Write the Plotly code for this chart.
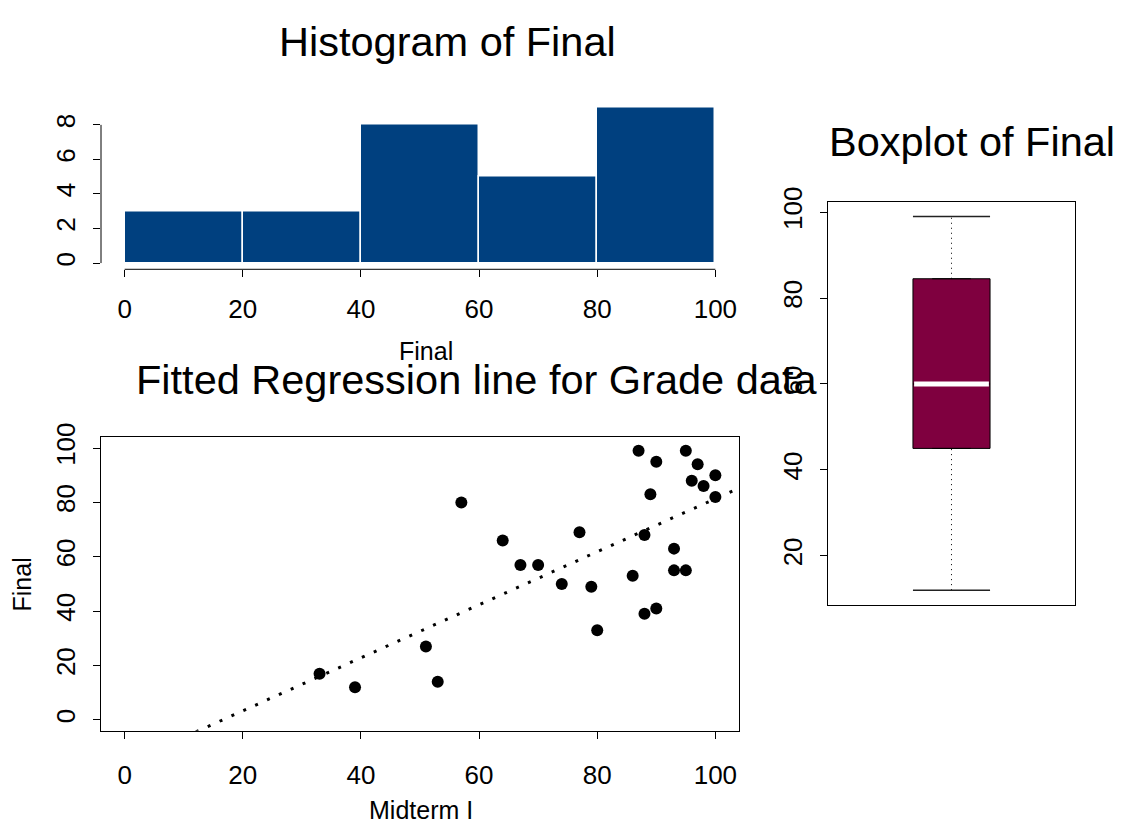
import numpy as np
import pandas as pd
import plotly.graph_objects as go

# Grade data: midterm I and final scores for each student
midterm = [33, 39, 51, 53, 57, 64, 67, 70, 74, 77, 79, 80, 86, 87, 88, 88,
           89, 90, 90, 93, 93, 95, 95, 96, 97, 98, 100, 100]
final = [17, 12, 27, 14, 80, 66, 57, 57, 50, 69, 49, 33, 53, 99, 68, 39,
         83, 95, 41, 63, 55, 99, 55, 88, 94, 86, 90, 82]

hist_breaks = [0, 20, 40, 60, 80, 100]
hist_ticks = [0, 2, 4, 6, 8]
grade_ticks = [0, 20, 40, 60, 80, 100]
box_ticks = [20, 40, 60, 80, 100]

W, H = 1121, 825
FONT = "Liberation Sans, Arial, sans-serif"
BAR_BLUE = "#00407F"
BOX_PURPLE = "#7F003F"


def fx(p):
    return p / W


def fy(p):
    return 1 - p / H


def padded(lo, hi):
    d = 0.04 * (hi - lo)
    return [lo - d, hi + d]


# Histogram counts with right-closed bins (a, b]
counts = (pd.cut(pd.Series(final), bins=hist_breaks, right=True, include_lowest=True)
          .value_counts(sort=False).values)
mids = [(a + b) / 2 for a, b in zip(hist_breaks[:-1], hist_breaks[1:])]
bin_w = hist_breaks[1] - hist_breaks[0]

# Least-squares line of final on midterm
slope, intercept = np.polyfit(midterm, final, 1)
x_rng = padded(0, 100)
line_x = np.array(x_rng)
line_y = intercept + slope * line_x


# Tukey five-number summary for the boxplot
def fivenum(v):
    v = np.sort(np.asarray(v, dtype=float))
    n = len(v)
    n4 = np.floor((n + 3) / 2) / 2
    d = np.array([1, n4, (n + 1) / 2, n + 1 - n4, n]) - 1
    return 0.5 * (v[np.floor(d).astype(int)] + v[np.ceil(d).astype(int)])


_, q1, med, q3, _ = fivenum(final)
iqr = q3 - q1
fv = np.asarray(final)
whisk_lo = fv[fv >= q1 - 1.5 * iqr].min()
whisk_hi = fv[fv <= q3 + 1.5 * iqr].max()
box_w = 0.337
hw = box_w / 2

fig = go.Figure()

# Histogram of Final
fig.add_trace(go.Bar(
    x=mids, y=counts, width=bin_w,
    marker=dict(color=BAR_BLUE, line=dict(color="white", width=1.5)),
    xaxis="x", yaxis="y", hoverinfo="skip",
))

# Scatter of Final vs Midterm I with fitted line
fig.add_trace(go.Scatter(
    x=line_x, y=line_y, mode="lines",
    line=dict(color="black", width=3, dash="3px,10px"),
    xaxis="x2", yaxis="y2", hoverinfo="skip",
))
fig.add_trace(go.Scatter(
    x=midterm, y=final, mode="markers",
    marker=dict(color="black", size=12),
    xaxis="x2", yaxis="y2",
))

# Boxplot of Final
fig.add_trace(go.Box(
    x=[1], q1=[q1], median=[med], q3=[q3],
    lowerfence=[q1], upperfence=[q3], width=box_w,
    fillcolor=BOX_PURPLE, line=dict(color="black", width=1),
    boxpoints=False, xaxis="x3", yaxis="y3", hoverinfo="skip",
))
for y0, y1 in [(q3, whisk_hi), (whisk_lo, q1)]:
    fig.add_trace(go.Scatter(
        x=[1, 1], y=[y0, y1], mode="lines",
        line=dict(color="black", width=1, dash="1px,4px"),
        xaxis="x3", yaxis="y3", hoverinfo="skip",
    ))
for yc in [whisk_hi, whisk_lo]:
    fig.add_trace(go.Scatter(
        x=[1 - hw, 1 + hw], y=[yc, yc], mode="lines",
        line=dict(color="#222222", width=1.5),
        xaxis="x3", yaxis="y3", hoverinfo="skip",
    ))
fig.add_trace(go.Scatter(
    x=[1 - hw + 0.005, 1 + hw - 0.005], y=[med, med], mode="lines",
    line=dict(color="white", width=5),
    xaxis="x3", yaxis="y3", hoverinfo="skip",
))

tick_font = dict(family=FONT, size=26, color="black")
common = dict(showgrid=False, zeroline=False, ticks="outside", ticklen=7,
              tickcolor="black", tickwidth=1, tickfont=tick_font)

fig.update_layout(
    width=W, height=H,
    margin=dict(l=0, r=0, t=0, b=0),
    paper_bgcolor="white", plot_bgcolor="white",
    showlegend=False, bargap=0,
    font=dict(family=FONT, color="black"),
    xaxis=dict(domain=[fx(101), fx(739)], range=padded(0, 100),
               tickvals=grade_ticks, showline=False, anchor="y",
               ticklabelstandoff=10, **common),
    yaxis=dict(domain=[fy(259), fy(88)], range=padded(0, 9),
               tickvals=hist_ticks, tickangle=-90, showline=False, anchor="x",
               ticklabelstandoff=8, **common),
    xaxis2=dict(domain=[fx(101), fx(739)], range=x_rng,
                tickvals=grade_ticks, showline=True, mirror=True,
                linecolor="black", linewidth=1, anchor="y2",
                ticklabelstandoff=14, **common),
    yaxis2=dict(domain=[fy(729), fy(430)], range=padded(0, 100),
                tickvals=grade_ticks, tickangle=-90, showline=True, mirror=True,
                linecolor="black", linewidth=1, anchor="x2",
                ticklabelstandoff=8, **common),
    xaxis3=dict(domain=[fx(828), fx(1075)], range=[0.46, 1.54],
                showticklabels=False, ticks="", showgrid=False, zeroline=False,
                showline=True, mirror=True, linecolor="black", linewidth=1,
                anchor="y3"),
    yaxis3=dict(domain=[fy(601), fy(190)], range=padded(min(final), max(final)),
                tickvals=box_ticks, tickangle=-90, showline=True, mirror=True,
                linecolor="black", linewidth=1, anchor="x3",
                ticklabelstandoff=8, **common),
)

# Axis lines of the histogram span only the tick range
fig.add_shape(type="line", xref="x", yref="y domain",
              x0=hist_breaks[0], x1=hist_breaks[-1], y0=0, y1=0,
              line=dict(color="black", width=1))
fig.add_shape(type="line", xref="x domain", yref="y",
              x0=0, x1=0, y0=hist_ticks[0], y1=hist_ticks[-1],
              line=dict(color="black", width=1))

title_font = dict(family=FONT, size=41.5, color="black")
label_font = dict(family=FONT, size=25, color="black")
texts = [
    ("Histogram of Final", 447, 27, 0, title_font),
    ("Boxplot of Final", 972, 129, 0, title_font),
    ("Fitted Regression line for Grade data", 476, 371, 0, title_font),
    ("Final", 426, 342, 0, label_font),
    ("Midterm I", 421, 810, 0, label_font),
    ("Final", 22, 580, -90, label_font),
]
for txt, px, py, ang, fnt in texts:
    fig.add_annotation(text=txt, xref="paper", yref="paper",
                       x=fx(px), y=fy(py), xanchor="center", yanchor="middle",
                       showarrow=False, textangle=ang, font=fnt)

fig.write_html("out.html")
